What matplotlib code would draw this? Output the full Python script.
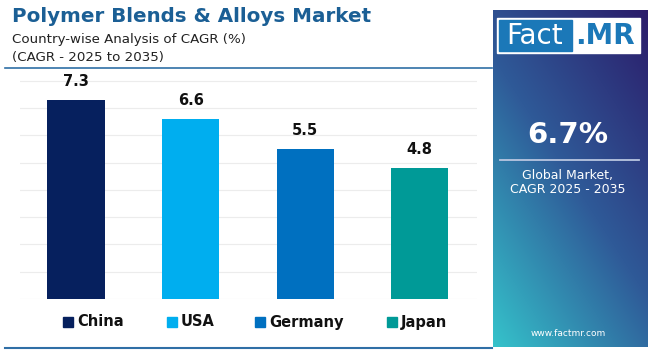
import numpy as np
import matplotlib.pyplot as plt
from matplotlib.patches import Rectangle
from matplotlib.lines import Line2D

countries = ["China", "USA", "Germany", "Japan"]
cagr = [7.3, 6.6, 5.5, 4.8]
colors = ["#06205e", "#00aeef", "#0070c0", "#009a97"]
global_cagr = "6.7%"

W, H = 650, 350
fig = plt.figure(figsize=(6.5, 3.5), dpi=100)
fig.patch.set_facecolor("white")


def fx(px):
    return px / W


def fy(py):
    return 1 - py / H


# main bar chart
ax = fig.add_axes([fx(20), fy(299), fx(457), 0.639])
x = np.arange(len(countries))
ax.bar(x, cagr, width=0.5, color=colors, zorder=3)
for xi, v in zip(x, cagr):
    ax.annotate(f"{v}", (xi, v), xytext=(0, 8), textcoords="offset points",
                ha="center", va="bottom", fontsize=10.5, fontweight="bold",
                color="#111111", family="DejaVu Sans")
ax.set_xlim(-0.49, 3.5)
ax.set_ylim(0, 8.2)
ax.set_yticks(np.arange(0, 9, 1))
ax.grid(axis="y", color="#ececec", linewidth=0.8, zorder=0)
ax.tick_params(left=False, bottom=False, labelleft=False, labelbottom=False)
for s in ax.spines.values():
    s.set_visible(False)

# title block
fig.text(fx(12), fy(16), "Polymer Blends & Alloys Market", fontsize=14.3,
         fontweight="bold", color="#1b5f95", va="center", family="DejaVu Sans")
fig.text(fx(12), fy(40), "Country-wise Analysis of CAGR (%)", fontsize=9.6,
         color="#222222", va="center", family="DejaVu Sans")
fig.text(fx(12), fy(58), "(CAGR - 2025 to 2035)", fontsize=9.6,
         color="#222222", va="center", family="DejaVu Sans")
fig.add_artist(Line2D([fx(5), fx(492)], [fy(68), fy(68)], color="#2f6fa6", lw=1.2))
fig.add_artist(Line2D([fx(5), fx(492)], [fy(348), fy(348)], color="#2f6fa6", lw=1.5))

# legend
leg_x = [63, 167, 255, 387]
for lx, name, c in zip(leg_x, countries, colors):
    fig.add_artist(Rectangle((fx(lx), fy(327)), fx(10), 10 / H, color=c))
    fig.text(fx(lx + 14), fy(322), name, fontsize=10.5, fontweight="bold",
             color="#111111", va="center", family="DejaVu Sans")

# right side panel with gradient (teal bottom-left -> purple top-right)
pax = fig.add_axes([fx(493), fy(347), fx(154), 337 / H])
u, v = np.meshgrid(np.linspace(0, 1, 200), np.linspace(1, 0, 400))
d = np.clip((0.7 * v + 0.5 * u) / 1.2, 0, 1)[..., None]
bot = np.array([0x35, 0xc3, 0xcb]) / 255
mid = np.array([0x2f, 0x5a, 0x98]) / 255
top = np.array([0x2b, 0x1c, 0x6a]) / 255
img = np.where(d < 0.5, bot + (mid - bot) * (d / 0.5),
               mid + (top - mid) * ((d - 0.5) / 0.5))
pax.imshow(img, aspect="auto", extent=[0, 1, 0, 1], origin="upper")
pax.set_xlim(0, 1)
pax.set_ylim(0, 1)
pax.axis("off")

# logo
fig.add_artist(Rectangle((fx(497), fy(53)), fx(143), 35 / H, color="white"))
fig.add_artist(Rectangle((fx(499), fy(51)), fx(73), 31 / H, color="#1b78b8"))
fig.text(fx(535), fy(36), "Fact", fontsize=20, color="white", ha="center",
         va="center", family="DejaVu Sans")
fig.text(fx(605), fy(36), ".MR", fontsize=20, color="#1b78b8", ha="center",
         va="center", fontweight="bold", family="DejaVu Sans")

fig.text(fx(568), fy(135), global_cagr, fontsize=21, fontweight="bold",
         color="white", ha="center", va="center", family="DejaVu Sans")
fig.add_artist(Line2D([fx(500), fx(639)], [fy(160), fy(160)], color="#b9c6e0", lw=1.3))
fig.text(fx(568), fy(175), "Global Market,", fontsize=9, color="white",
         ha="center", va="center", family="DejaVu Sans")
fig.text(fx(568), fy(190), "CAGR 2025 - 2035", fontsize=9, color="white",
         ha="center", va="center", family="DejaVu Sans")
fig.text(fx(568), fy(334), "www.factmr.com", fontsize=6.5, color="white",
         ha="center", va="center", family="DejaVu Sans")

fig.savefig("out.png", dpi=100)
